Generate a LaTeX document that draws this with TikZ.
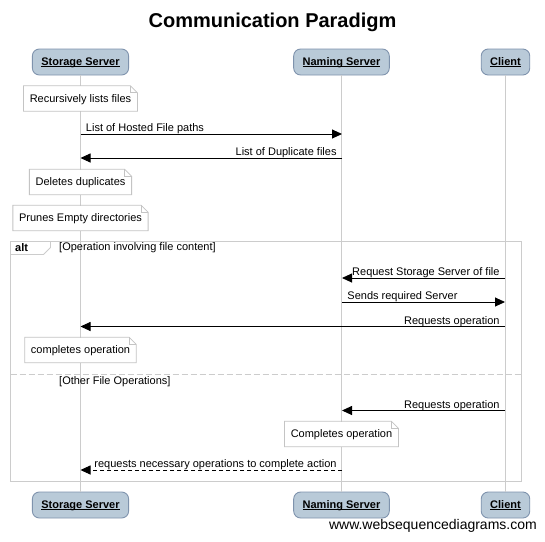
\documentclass[tikz,border=0pt]{standalone}
\usepackage{fontspec}
\setmainfont{Liberation Sans}
\usetikzlibrary{arrows.meta}
\definecolor{headfill}{HTML}{B9CAD8}
\definecolor{headline}{HTML}{7F93AD}
\definecolor{lgray}{HTML}{CCCCCC}
\definecolor{ngray}{HTML}{C4C4C4}
\newcommand\ul[1]{\setbox0\hbox{#1}\rlap{\copy0}\rule[-1.6pt]{\wd0}{0.8pt}}
\tikzset{
  head/.style={draw=headline, fill=headfill, rounded corners=7pt, line width=0.9pt,
    inner xsep=9pt, inner ysep=0pt, minimum height=26pt, text height=8pt, text depth=2pt,
    font=\fontsize{11}{13}\selectfont\bfseries},
  lifeline/.style={draw=lgray, line width=0.9pt},
  notebox/.style={fill=white, inner xsep=6pt, inner ysep=0pt, minimum height=25pt,
    text height=9pt, text depth=2pt, font=\fontsize{11}{13}\selectfont},
  noteline/.style={draw=ngray, line width=0.8pt},
  msg/.style={draw=black, line width=0.9pt, -{Triangle[length=10pt,width=9pt]}},
  reply/.style={msg, dash pattern=on 4pt off 3pt},
  lblr/.style={pos=0, anchor=base west, xshift=5pt, yshift=2.5pt, font=\fontsize{11}{13}\selectfont, inner sep=0pt},
  lbll/.style={pos=0, anchor=base east, xshift=-5pt, yshift=2.5pt, font=\fontsize{11}{13}\selectfont, inner sep=0pt},
  frameline/.style={draw=lgray, line width=0.9pt},
}
\newcommand\drawnote[1]{%
  \draw[noteline] (#1.north west) -- ([xshift=-7pt]#1.north east) -- ([yshift=-7pt]#1.north east) -- (#1.south east) -- (#1.south west) -- cycle;
  \draw[noteline] ([xshift=-7pt]#1.north east) -- ([xshift=-7pt,yshift=-7pt]#1.north east) -- ([yshift=-7pt]#1.north east);
}
\begin{document}
\begin{tikzpicture}[x=1pt,y=-1pt]
\useasboundingbox (0,0) rectangle (545,541);
\fill[white] (0,0) rectangle (545,541);
% title
\node[font=\fontsize{20}{24}\selectfont\bfseries] (title) at (272.5,22) {Communication Paradigm};
% heads
\node[head] (sTop) at (80.5,62) {\ul{Storage Server}};
\node[head] (nTop) at (341.5,62) {\ul{Naming Server}};
\node[head] (cTop) at (505.5,62) {\ul{Client}};
\node[head] (sBot) at (80.5,505) {\ul{Storage Server}};
\node[head] (nBot) at (341.5,505) {\ul{Naming Server}};
\node[head] (cBot) at (505.5,505) {\ul{Client}};
% lifelines
\draw[lifeline] (sTop.south) -- (sBot.north);
\draw[lifeline] (nTop.south) -- (nBot.north);
\draw[lifeline] (cTop.south) -- (cBot.north);
% alt frame
\draw[frameline] (10.5,241) rectangle (521.5,481);
\draw[frameline] (10.5,254.5) -- (43.5,254.5) -- (50.5,247.5) -- (50.5,241);
\node[anchor=west, font=\fontsize{11}{13}\selectfont\bfseries, inner sep=0pt] (alt) at (15,248) {alt};
\node[anchor=west, font=\fontsize{11}{13}\selectfont, inner sep=0pt] (g1) at (59,248) {[Operation involving file content]};
\draw[draw=lgray, line width=0.9pt, dash pattern=on 6pt off 3pt] (10.5,374) -- (521.5,374);
\node[anchor=west, font=\fontsize{11}{13}\selectfont, inner sep=0pt] (g2) at (59,381.5) {[Other File Operations]};
% coordinates on lifelines
\coordinate (s1) at (80.5,134); \coordinate (n1) at (342,134);
\coordinate (s2) at (80.5,158); \coordinate (n2) at (342,158);
\coordinate (n3) at (342,278); \coordinate (c3) at (505,278);
\coordinate (n4) at (342,302); \coordinate (c4) at (505,302);
\coordinate (s5) at (80.5,326.5); \coordinate (c5) at (505,326.5);
\coordinate (n6) at (342,410.5); \coordinate (c6) at (505,410.5);
\coordinate (s7) at (80.5,470); \coordinate (n7) at (342,470);
% notes
\node[notebox] (note1) at (80.5,98.5) {Recursively lists files};
\drawnote{note1}
\node[notebox] (note2) at (80.5,182) {Deletes duplicates};
\drawnote{note2}
\node[notebox] (note3) at (80.5,218) {Prunes Empty directories};
\drawnote{note3}
\node[notebox] (note4) at (80.5,350) {completes operation};
\drawnote{note4}
\node[notebox] (note5) at (341.5,434) {Completes operation};
\drawnote{note5}
% messages
\draw[msg] (s1) -- node[lblr] {List of Hosted File paths} (n1);
\draw[msg] (n2) -- node[lbll] {List of Duplicate files} (s2);
\draw[msg] (c3) -- node[lbll] {Request Storage Server of file} (n3);
\draw[msg] (n4) -- node[lblr] {Sends required Server} (c4);
\draw[msg] (c5) -- node[lbll] {Requests operation} (s5);
\draw[msg] (c6) -- node[lbll] {Requests operation} (n6);
\draw[reply] (n7) -- node[lbll] {requests necessary operations to complete action} (s7);
% footer
\node[anchor=east, font=\fontsize{14}{16}\selectfont, inner sep=0pt] (footer) at (537,526) {www.websequencediagrams.com};
\end{tikzpicture}
\end{document}
